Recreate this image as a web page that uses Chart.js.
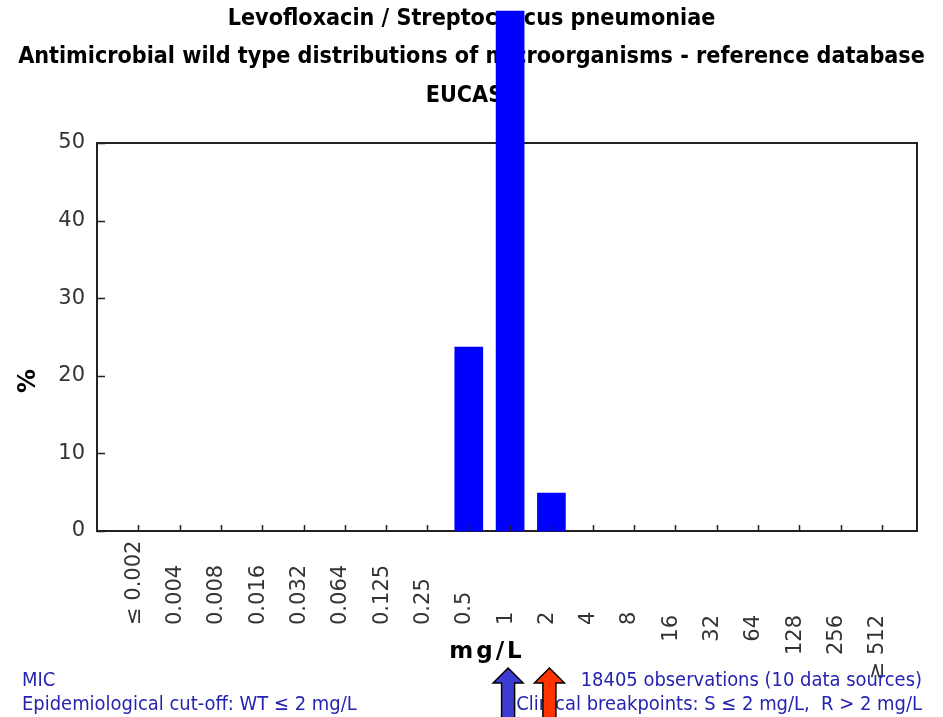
<!DOCTYPE html>
<html>
<head>
<meta charset="utf-8">
<script src="https://cdn.jsdelivr.net/npm/chart.js@4.4.1/dist/chart.umd.min.js"></script>
<style>
  html, body { margin: 0; padding: 0; background: #ffffff; }
  #c { display: block; }
</style>
</head>
<body>
<canvas id="c" width="943" height="717"></canvas>
<script>
// ---- data ----
const categories = ['≤ 0.002','0.004','0.008','0.016','0.032','0.064','0.125','0.25','0.5','1','2','4','8','16','32','64','128','256','≥ 512'];
const percentValues = [0,0,0,0,0,0,0,0,23.7,67.0,4.9,0,0,0,0,0,0,0,0];
const yTickValues = [0,10,20,30,40,50];
const titleLines = ['Levofloxacin / Streptococcus pneumoniae','Antimicrobial wild type distributions of microorganisms - reference database','EUCAST'];
const yAxisTitle = '%';
const xAxisTitle = 'mg/L';
const footerLeft = ['MIC','Epidemiological cut-off: WT ≤ 2 mg/L'];
const footerRight = ['18405 observations (10 data sources)','Clinical breakpoints: S ≤ 2 mg/L,  R > 2 mg/L'];
const blueArrowCategory = '1';
const redArrowCategory = '2';

// zero bins have no visible bar
const points = categories.map((c, i) => ({ x: i + 1, y: percentValues[i] > 0 ? percentValues[i] : null }));

function fitSize(ctx, text, weight, family, target, base) {
  ctx.font = weight + ' ' + base + 'px ' + family;
  const w = ctx.measureText(text).width;
  return base * target / w;
}

const decor = {
  id: 'decor',
  beforeDatasetsDraw(chart) {
    const ctx = chart.ctx;
    const a = chart.chartArea;
    ctx.save();
    // top & right frame
    ctx.strokeStyle = '#222';
    ctx.lineWidth = 2;
    ctx.beginPath();
    ctx.moveTo(a.left, a.top);
    ctx.lineTo(a.right, a.top);
    ctx.lineTo(a.right, a.bottom);
    ctx.stroke();
    // titles
    const fam = '"DejaVu Sans Condensed", "DejaVu Sans", sans-serif';
    const ts = fitSize(ctx, titleLines[1], 'bold', fam, 907, 20);
    ctx.font = 'bold ' + ts.toFixed(2) + 'px ' + fam;
    ctx.fillStyle = '#000';
    ctx.textAlign = 'center';
    ctx.textBaseline = 'middle';
    const ty = [19, 57, 96];
    titleLines.forEach((t, i) => ctx.fillText(t, 471.5, ty[i]));
    // y title
    ctx.save();
    ctx.translate(29, 381);
    ctx.rotate(-Math.PI / 2);
    ctx.font = 'bold 24px "DejaVu Sans", sans-serif';
    ctx.fillText(yAxisTitle, 0, 0);
    ctx.restore();
    ctx.restore();
  },
  afterDatasetsDraw(chart) {
    const ctx = chart.ctx;
    const a = chart.chartArea;
    const xs = chart.scales.x, ys = chart.scales.y;
    ctx.save();
    ctx.strokeStyle = '#222';
    ctx.lineWidth = 1.5;
    // inner tick marks
    ctx.beginPath();
    categories.forEach((c, i) => {
      const px = Math.round(xs.getPixelForValue(i + 1)) + 0.5;
      ctx.moveTo(px, a.bottom);
      ctx.lineTo(px, a.bottom - 6);
    });
    yTickValues.forEach(v => {
      const py = Math.round(ys.getPixelForValue(v)) + 0.5;
      ctx.moveTo(a.left, py);
      ctx.lineTo(a.left + 8, py);
    });
    ctx.stroke();
    // x tick labels
    ctx.fillStyle = '#333';
    ctx.font = '21px "DejaVu Sans", sans-serif';
    ctx.textBaseline = 'middle';
    categories.forEach((c, i) => {
      const px = xs.getPixelForValue(i + 1) - 4;
      ctx.save();
      if (i < 13) {
        ctx.translate(px, 625);
        ctx.rotate(-Math.PI / 2);
        ctx.textAlign = 'left';
      } else {
        ctx.translate(px, 615);
        ctx.rotate(-Math.PI / 2);
        ctx.textAlign = 'right';
      }
      ctx.fillText(c, 0, 0);
      ctx.restore();
    });
    // x title
    ctx.fillStyle = '#000';
    ctx.font = 'bold 23px "DejaVu Sans", sans-serif';
    ctx.textAlign = 'center';
    ctx.textBaseline = 'alphabetic';
    try { ctx.letterSpacing = '3px'; } catch (e) {}
    ctx.fillText(xAxisTitle, 487, 658);
    try { ctx.letterSpacing = '0px'; } catch (e) {}
    // footer
    const ff = '"DejaVu Sans Condensed", "DejaVu Sans", sans-serif';
    const fs = fitSize(ctx, footerRight[1], 'normal', ff, 406, 16);
    ctx.font = fs.toFixed(2) + 'px ' + ff;
    ctx.fillStyle = '#2424b0';
    ctx.textBaseline = 'middle';
    ctx.textAlign = 'left';
    ctx.fillText(footerLeft[0], 22, 681);
    ctx.fillText(footerLeft[1], 22, 705);
    ctx.textAlign = 'right';
    ctx.fillText(footerRight[0], 922, 681);
    ctx.fillText(footerRight[1], 922, 705);
    // arrows
    function arrow(cx, color) {
      ctx.beginPath();
      ctx.moveTo(cx, 668);
      ctx.lineTo(cx + 15, 683);
      ctx.lineTo(cx + 6.5, 683);
      ctx.lineTo(cx + 6.5, 720);
      ctx.lineTo(cx - 6.5, 720);
      ctx.lineTo(cx - 6.5, 683);
      ctx.lineTo(cx - 15, 683);
      ctx.closePath();
      ctx.fillStyle = color;
      ctx.fill();
      ctx.strokeStyle = '#000';
      ctx.lineWidth = 1.5;
      ctx.stroke();
    }
    arrow(xs.getPixelForValue(categories.indexOf(blueArrowCategory) + 1) - 2, '#3c3cd2');
    arrow(xs.getPixelForValue(categories.indexOf(redArrowCategory) + 1) - 2, '#ff3300');
    ctx.restore();
  }
};

new Chart(document.getElementById('c'), {
  type: 'bar',
  data: {
    datasets: [{
      data: points,
      backgroundColor: '#0000ff',
      borderWidth: 0,
      barThickness: 28,
      clip: false
    }]
  },
  options: {
    responsive: false,
    animation: false,
    devicePixelRatio: 1,
    layout: { padding: { left: 0, right: 26, top: 143, bottom: 186 } },
    scales: {
      x: {
        type: 'linear',
        offset: false,
        min: 0,
        max: categories.length + 0.85,
        ticks: { display: false },
        grid: { display: false, drawTicks: false, offset: false },
        border: { display: true, color: '#222', width: 2 },
        afterFit(s) { s.height = 0; }
      },
      y: {
        min: 0,
        max: 50,
        afterBuildTicks(s) { s.ticks = yTickValues.map(v => ({ value: v })); },
        ticks: { font: { family: '"DejaVu Sans", sans-serif', size: 21 }, color: '#333', padding: 12 },
        grid: { display: false, drawTicks: false },
        border: { display: true, color: '#222', width: 2 },
        afterFit(s) { s.width = 97; }
      }
    },
    plugins: { legend: { display: false }, tooltip: { enabled: false }, title: { display: false } }
  },
  plugins: [decor]
});
</script>
</body>
</html>
